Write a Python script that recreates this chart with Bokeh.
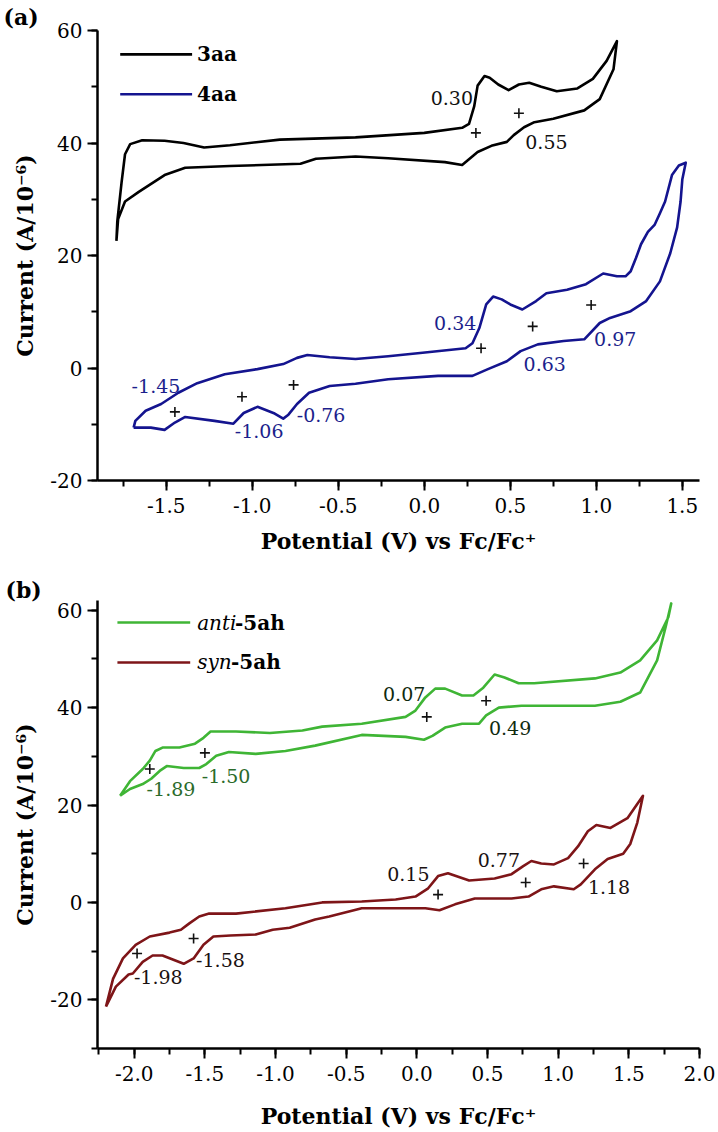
from bokeh.plotting import figure
from bokeh.models import Label, SingleIntervalTicker, PrintfTickFormatter, Range1d
from bokeh.layouts import column
from bokeh.embed import file_html
from bokeh.resources import INLINE

# ---------------- data: panel (a) ----------------
v_3aa = [-1.79, -1.785, -1.76, -1.74, -1.71, -1.64, -1.51, -1.40, -1.28, -1.13, -0.84, -0.40, 0.00, 0.22, 0.26,
         0.29, 0.31, 0.35, 0.38, 0.43, 0.49, 0.55, 0.61, 0.68, 0.77, 0.89, 0.98, 1.06, 1.12,
         1.10, 1.02, 0.93, 0.75, 0.64, 0.58, 0.52, 0.48, 0.39, 0.31, 0.22, 0.12, -0.21, -0.40, -0.63, -0.72,
         -1.13, -1.39, -1.51, -1.66, -1.74, -1.78, -1.79]
i_3aa = [22.6, 26.0, 33.0, 38.0, 39.8, 40.5, 40.4, 40.0, 39.2, 39.6, 40.6, 41.0, 41.8, 42.7, 43.4,
         46.5, 50.2, 51.9, 51.6, 50.4, 49.4, 50.4, 50.7, 50.0, 49.2, 49.7, 51.4, 54.6, 58.1,
         53.1, 47.8, 45.8, 44.3, 43.7, 42.8, 41.4, 40.2, 39.5, 38.4, 36.1, 36.6, 37.3, 37.6, 37.2, 36.3,
         35.9, 35.6, 34.3, 31.3, 29.6, 26.5, 22.6]

v_4aa = [-1.69, -1.68, -1.62, -1.53, -1.43, -1.32, -1.16, -0.97, -0.82, -0.74, -0.68, -0.55, -0.40, -0.21, -0.01,
         0.24, 0.28, 0.32, 0.36, 0.40, 0.45, 0.50, 0.57, 0.65, 0.71, 0.83, 0.94, 1.04, 1.12, 1.17, 1.20,
         1.23, 1.26, 1.30, 1.34, 1.37, 1.40, 1.44, 1.48, 1.52,
         1.50, 1.49, 1.47, 1.43, 1.37, 1.29, 1.20, 1.08, 1.02, 0.93, 0.81, 0.66, 0.56, 0.48, 0.37, 0.28,
         0.08, -0.21, -0.40, -0.55, -0.67, -0.74, -0.79, -0.82, -0.87, -0.97, -1.05, -1.11, -1.22, -1.39,
         -1.45, -1.51, -1.59, -1.69]
i_4aa = [-10.6, -9.4, -7.6, -6.4, -4.4, -2.7, -1.1, -0.2, 0.7, 1.8, 2.3, 1.9, 1.6, 2.1, 2.7,
         3.5, 4.4, 7.1, 11.3, 12.7, 12.2, 11.3, 10.4, 11.9, 13.3, 13.9, 14.9, 16.8, 16.3, 16.3, 17.2,
         19.5, 22.0, 24.2, 25.5, 27.5, 29.6, 34.3, 36.0, 36.5,
         33.5, 29.6, 25.0, 20.4, 15.4, 11.9, 10.1, 8.9, 8.0, 5.1, 4.8, 4.2, 3.0, 1.2, -0.2, -1.4,
         -1.4, -2.0, -2.8, -3.2, -4.4, -6.4, -8.3, -9.0, -8.1, -6.9, -8.0, -9.9, -9.4, -8.7,
         -9.7, -11.0, -10.6, -10.6]

lab_3aa_text = ["0.30", "0.55"]
lab_3aa_v = [0.16, 0.71]
lab_3aa_i = [48.0, 40.2]
cross_3aa_v = [0.30, 0.55]
cross_3aa_i = [41.8, 45.3]

lab_4aa_text = ["0.34", "0.63", "0.97", "-1.45", "-1.06", "-0.76"]
lab_4aa_v = [0.18, 0.70, 1.11, -1.56, -0.96, -0.60]
lab_4aa_i = [8.0, 0.7, 5.1, -3.2, -11.2, -8.3]
cross_4aa_v = [0.33, 0.63, 0.97, -1.45, -1.06, -0.76]
cross_4aa_i = [3.5, 7.4, 11.2, -7.8, -5.1, -3.0]

# ---------------- data: panel (b) ----------------
v_anti = [-2.10, -2.03, -1.94, -1.89, -1.85, -1.80, -1.68, -1.57, -1.51, -1.46, -1.28, -1.04, -0.81, -0.67, -0.39,
          -0.08, -0.01, 0.06, 0.13, 0.20, 0.32, 0.40, 0.47, 0.55, 0.62, 0.72, 0.83, 1.26, 1.44, 1.58, 1.70, 1.78, 1.80,
          1.76, 1.70, 1.58, 1.44, 1.26, 1.02, 0.74, 0.58, 0.49, 0.44, 0.32, 0.20, 0.11, 0.05, -0.08, -0.39,
          -0.72, -0.93, -1.14, -1.33, -1.42, -1.49, -1.54, -1.65, -1.77, -1.82, -1.88, -1.94, -2.03, -2.10]
i_anti = [21.9, 24.9, 27.4, 29.1, 31.1, 31.8, 31.8, 32.6, 33.8, 35.1, 35.1, 34.8, 35.3, 36.1, 36.7,
          38.1, 39.4, 42.1, 43.9, 43.9, 42.5, 42.5, 44.1, 46.8, 46.2, 45.0, 45.0, 46.0, 47.2, 49.7, 53.8, 58.6, 61.4,
          56.5, 49.7, 43.1, 41.2, 40.4, 40.4, 40.4, 40.0, 38.4, 36.7, 36.7, 35.9, 34.2, 33.4, 34.0, 34.4,
          32.2, 31.1, 30.5, 30.9, 30.1, 28.4, 27.6, 27.6, 28.0, 27.0, 25.4, 24.3, 23.3, 21.9]

v_syn = [-2.20, -2.15, -2.08, -1.99, -1.89, -1.75, -1.67, -1.61, -1.54, -1.47, -1.28, -0.93, -0.67, -0.39, -0.15,
         -0.01, 0.08, 0.15, 0.22, 0.37, 0.55, 0.67, 0.75, 0.81, 0.88, 0.97, 1.07, 1.14, 1.21, 1.27, 1.37, 1.49, 1.60,
         1.56, 1.51, 1.46, 1.35, 1.26, 1.16, 1.11, 0.97, 0.88, 0.79, 0.67, 0.41, 0.27, 0.16, 0.06, -0.15, -0.39,
         -0.62, -0.72, -0.90, -1.02, -1.14, -1.32, -1.44, -1.51, -1.58, -1.65, -1.80, -1.87, -1.94, -2.01, -2.04,
         -2.13, -2.20]
i_syn = [-21.4, -15.7, -11.5, -8.7, -7.0, -6.2, -5.6, -4.3, -2.9, -2.3, -2.3, -1.2, 0.0, 0.2, 0.6,
         1.2, 2.9, 5.4, 6.0, 4.5, 4.9, 5.8, 7.4, 8.5, 8.0, 7.8, 9.1, 11.5, 14.6, 15.9, 15.3, 17.3, 21.9,
         16.4, 12.0, 10.0, 8.9, 6.8, 3.7, 2.7, 3.3, 2.7, 1.2, 0.8, 0.8, -0.4, -1.6, -1.2, -1.2, -1.2,
         -2.9, -3.5, -5.2, -5.6, -6.6, -6.8, -7.0, -8.7, -11.5, -12.6, -10.9, -10.9, -12.2, -14.6, -14.8,
         -17.3, -21.4]

lab_anti_text = ["0.07", "0.49", "-1.89", "-1.50"]
lab_anti_v = [-0.09, 0.66, -1.74, -1.35]
lab_anti_i = [42.9, 35.9, 23.3, 26.0]
lab_anti_col = ["#0f2a0f", "#0f2a0f", "#2b6b2b", "#2b6b2b"]
cross_anti_v = [0.07, 0.49, -1.89, -1.50]
cross_anti_i = [38.1, 41.4, 27.4, 30.7]

lab_syn_text = ["0.15", "0.77", "1.18", "-1.98", "-1.58"]
lab_syn_v = [-0.06, 0.58, 1.36, -1.83, -1.39]
lab_syn_i = [5.8, 8.7, 3.1, -15.3, -11.8]
cross_syn_v = [0.15, 0.77, 1.18, -1.98, -1.58]
cross_syn_i = [1.6, 4.1, 8.0, -10.5, -7.4]

# ---------------- styling ----------------
SERIF = "DejaVu Serif"
C_3AA = "#000000"
C_4AA = "#14148f"
C_ANTI = "#3fb535"
C_SYN = "#7e1518"
LW = 2.6
Y_LABEL = "Current (A/10\u207b\u2076)"
X_LABEL = "Potential (V) vs Fc/Fc\u207a"


def make_panel(xr, yr, height, mbl, mbr, mbt, mbb, letter, title_offset, title_standoff, xlab_standoff):
    p = figure(width=718, height=height, x_range=Range1d(*xr), y_range=Range1d(*yr),
               output_backend="svg", toolbar_location=None,
               min_border_left=mbl, min_border_right=mbr, min_border_top=mbt, min_border_bottom=mbb)
    p.outline_line_color = None
    p.grid.visible = False
    p.background_fill_color = "white"
    p.border_fill_color = "white"
    for ax in (p.xaxis[0], p.yaxis[0]):
        ax.axis_line_width = 2.5
        ax.axis_line_color = "black"
        ax.major_tick_line_width = 2
        ax.minor_tick_line_width = 2
        ax.major_tick_line_color = "black"
        ax.minor_tick_line_color = "black"
        ax.major_tick_in = 0
        ax.minor_tick_in = 0
        ax.major_tick_out = 10
        ax.minor_tick_out = 6
        ax.major_label_text_font = SERIF
        ax.major_label_text_font_size = "20px"
        ax.major_label_text_color = "black"
        ax.axis_label_text_font = SERIF
        ax.axis_label_text_font_size = "22px"
        ax.axis_label_text_font_style = "bold"
        ax.axis_label_text_color = "black"
    p.xaxis[0].ticker = SingleIntervalTicker(interval=0.5, num_minor_ticks=2)
    p.yaxis[0].ticker = SingleIntervalTicker(interval=20, num_minor_ticks=2)
    p.xaxis[0].formatter = PrintfTickFormatter(format="%.1f")
    p.yaxis[0].formatter = PrintfTickFormatter(format="%d")
    p.xaxis[0].major_label_standoff = 7
    p.yaxis[0].major_label_standoff = 5
    p.xaxis[0].axis_label = X_LABEL
    p.yaxis[0].axis_label = Y_LABEL
    p.xaxis[0].axis_label_standoff = xlab_standoff
    p.yaxis[0].axis_label_standoff = 9
    p.title.text = letter
    p.title.align = "left"
    p.title.offset = title_offset
    try:
        p.title.standoff = title_standoff
    except Exception:
        p.title.standoff = 0
    p.title.text_font = SERIF
    p.title.text_font_size = "22px"
    p.title.text_font_style = "bold"
    p.title.text_color = "black"
    return p


def txt(p, x, y, text, size="19px", style="normal", color="black", align="center", baseline="middle"):
    p.add_layout(Label(x=x, y=y, text=text, text_font=SERIF, text_font_size=size,
                       text_font_style=style, text_color=color, text_align=align,
                       text_baseline=baseline))


# ---------------- panel (a) ----------------
pa = make_panel((-1.9, 1.6), (-20, 60), 566, 97, 10, 28, 86, "(a)", -94, 2, 12)
pa.line(v_3aa, i_3aa, line_color=C_3AA, line_width=LW, line_join="round")
pa.line(v_4aa, i_4aa, line_color=C_4AA, line_width=LW, line_join="round")
pa.scatter(cross_3aa_v + cross_4aa_v, cross_3aa_i + cross_4aa_i, marker="cross", size=10,
           line_color="#111111", line_width=1.6)
for t, x, y in zip(lab_3aa_text, lab_3aa_v, lab_3aa_i):
    txt(pa, x, y, t, color="#111111")
for t, x, y in zip(lab_4aa_text, lab_4aa_v, lab_4aa_i):
    txt(pa, x, y, t, color="#1c1f8c")
# legend (a)
pa.line([-1.768, -1.350], [55.75, 55.75], line_color=C_3AA, line_width=LW)
pa.line([-1.768, -1.350], [48.67, 48.67], line_color=C_4AA, line_width=LW)
txt(pa, -1.3214, 55.75, "3aa", size="20px", style="bold", align="left")
txt(pa, -1.3214, 48.67, "4aa", size="20px", style="bold", align="left")

# ---------------- panel (b) ----------------
pb = make_panel((-2.26, 2.0), (-30, 62), 566, 95, 19, 34, 84, "(b)", -92, -5, 19)
pb.line(v_anti, i_anti, line_color=C_ANTI, line_width=LW, line_join="round")
pb.line(v_syn, i_syn, line_color=C_SYN, line_width=LW, line_join="round")
pb.scatter(cross_anti_v + cross_syn_v, cross_anti_i + cross_syn_i, marker="cross", size=10,
           line_color="#111111", line_width=1.6)
for t, x, y, c in zip(lab_anti_text, lab_anti_v, lab_anti_i, lab_anti_col):
    txt(pb, x, y, t, color=c)
for t, x, y in zip(lab_syn_text, lab_syn_v, lab_syn_i):
    txt(pb, x, y, t, color="#1a1111")
# legend (b)
pb.line([-2.119, -1.604], [57.48, 57.48], line_color=C_ANTI, line_width=LW)
pb.line([-2.119, -1.604], [49.27, 49.27], line_color=C_SYN, line_width=LW)
txt(pb, -1.555, 57.48, "anti", size="20px", style="italic", align="left")
txt(pb, -1.287, 57.48, "-5ah", size="20px", style="bold", align="left")
txt(pb, -1.555, 49.27, "syn", size="20px", style="italic", align="left")
txt(pb, -1.315, 49.27, "-5ah", size="20px", style="bold", align="left")

layout = column(pa, pb)
open("out.html", "w").write(file_html(layout, INLINE))
